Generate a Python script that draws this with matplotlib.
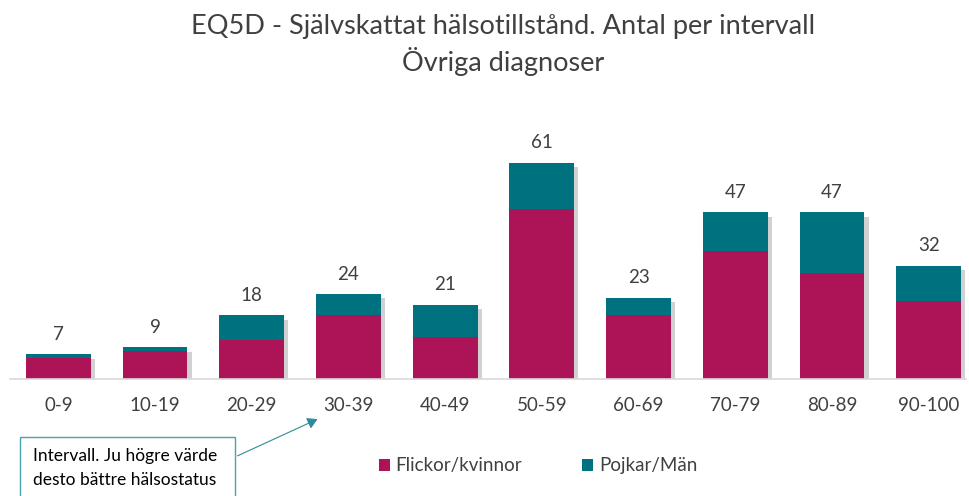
import matplotlib
matplotlib.use("Agg")
import matplotlib.pyplot as plt
import matplotlib.patheffects as pe
from matplotlib.patches import Rectangle, FancyArrowPatch

categories = ["0-9", "10-19", "20-29", "30-39", "40-49", "50-59", "60-69", "70-79", "80-89", "90-100"]
female = [6, 8, 11, 18, 12, 48, 18, 36, 30, 22]
male = [1, 1, 7, 6, 9, 13, 5, 11, 17, 10]
series_names = ["Flickor/kvinnor", "Pojkar/Män"]
title = "EQ5D - Självskattat hälsotillstånd. Antal per intervall\nÖvriga diagnoser"
note = "Intervall. Ju högre värde\ndesto bättre hälsostatus"

plt.rcParams['font.family'] = ['Lato', 'DejaVu Sans']
C_F = "#AD1457"
C_M = "#00717F"
TXT = "#404040"

W, H = 969, 496
fig = plt.figure(figsize=(W/100, H/100), dpi=100)
ax = fig.add_axes([10/W, (H-379.3)/H, 956/W, 239.3/H])
x = list(range(len(categories)))
totals = [f + m for f, m in zip(female, male)]
shadow = [pe.SimplePatchShadow(offset=(3, -3), shadow_rgbFace="#999999", alpha=0.45), pe.Normal()]
bs = ax.bar(x, totals, width=0.67, color=C_M, zorder=2)
for p in bs:
    p.set_path_effects(shadow)
b1 = ax.bar(x, female, width=0.67, color=C_F, label=series_names[0], zorder=3)
b2 = ax.bar(x, male, width=0.67, bottom=female, color=C_M, label=series_names[1], zorder=3)
for i in x:
    ax.text(i, totals[i] + 3.2, str(totals[i]), ha="center", va="bottom", fontsize=13.5, color=TXT)
ax.set_xlim(-0.5, 9.386)
ax.set_ylim(0, 67.4)
ax.set_yticks([])
ax.set_xticks(x)
ax.set_xticklabels(categories, fontsize=13.5, color=TXT)
ax.tick_params(axis="x", length=0, pad=13)
for s in ["top", "right", "left"]:
    ax.spines[s].set_visible(False)
ax.spines["bottom"].set_color("#D9D9D9")
ax.spines["bottom"].set_linewidth(1.2)
ax.spines["bottom"].set_zorder(4)

fig.text(503/W, 1 - 45/H, title, ha="center", va="center", fontsize=19.5, color=TXT, linespacing=1.3)

leg = fig.legend(handles=[b1, b2], loc="center", bbox_to_anchor=(538/W, 1 - 466/H), ncol=2,
                 frameon=False, fontsize=13.5, handlelength=0.6, handleheight=0.6,
                 columnspacing=3.2, handletextpad=0.3, labelcolor=TXT)

fig.patches.append(Rectangle((20/W, 1 - 500/H), 215/W, 63/H, transform=fig.transFigure,
                             fill=True, facecolor="white", edgecolor="#4BA3AF", linewidth=1))
fig.text(33/W, 1 - 468/H, note, ha="left", va="center", fontsize=12.5, color="black", linespacing=1.6)
fig.patches.append(FancyArrowPatch((235/W, 1 - 457/H), (320/W, 1 - 418/H), transform=fig.transFigure,
                                   arrowstyle="-|>,head_length=6,head_width=3.5", color="#2E8C99",
                                   linewidth=0.8, mutation_scale=1))

fig.savefig("out.png", dpi=100, facecolor="white")
